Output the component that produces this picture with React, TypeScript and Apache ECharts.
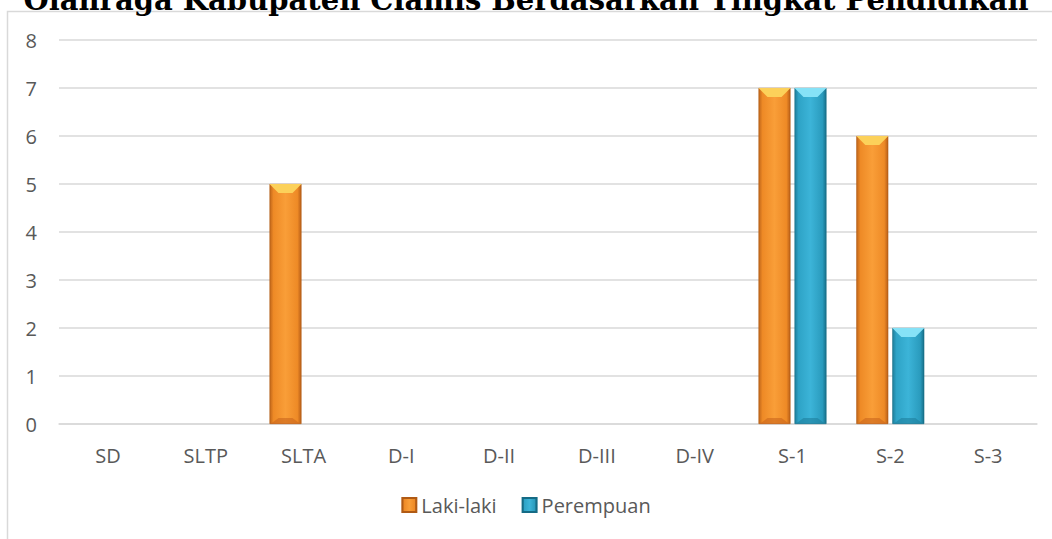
import React, { useEffect, useRef } from "react";
import * as echarts from "echarts";

const categories = ["SD", "SLTP", "SLTA", "D-I", "D-II", "D-III", "D-IV", "S-1", "S-2", "S-3"];
const lakiLaki = [0, 0, 5, 0, 0, 0, 0, 7, 6, 0];
const perempuan = [0, 0, 0, 0, 0, 0, 0, 7, 2, 0];
const yTicks = [0, 1, 2, 3, 4, 5, 6, 7, 8];
const titleText = "Olahraga Kabupaten Ciamis Berdasarkan Tingkat Pendidikan";

const BAR_W = 32;
const OFFSET = 18;

const orangeGrad = new echarts.graphic.LinearGradient(0, 0, 1, 0, [
  { offset: 0, color: "#c0661a" },
  { offset: 0.12, color: "#ee8a26" },
  { offset: 0.5, color: "#f99e38" },
  { offset: 0.88, color: "#ee8a26" },
  { offset: 1, color: "#b95f18" },
]);
const blueGrad = new echarts.graphic.LinearGradient(0, 0, 1, 0, [
  { offset: 0, color: "#1f7f9c" },
  { offset: 0.12, color: "#2ea3c6" },
  { offset: 0.5, color: "#3cb4d8" },
  { offset: 0.88, color: "#2a9bbd" },
  { offset: 1, color: "#17708a" },
]);

function bevelSeries(name: string, values: number[], dir: number, topColor: string, bottomColor: string) {
  return {
    type: "custom",
    name,
    silent: true,
    z: 5,
    data: values.map((v, i) => [i, v]),
    renderItem: (params: any, api: any) => {
      const v = api.value(1);
      if (!v) return null;
      const top = api.coord([api.value(0), v]);
      const base = api.coord([api.value(0), 0]);
      const cx = top[0] + dir * OFFSET;
      const l = cx - BAR_W / 2;
      const r = cx + BAR_W / 2;
      const t = top[1];
      const b = base[1];
      const h = 9;
      const ins = 9;
      return {
        type: "group",
        children: [
          {
            type: "polygon",
            shape: { points: [[l, t], [r, t], [r - ins, t + h], [l + ins, t + h]] },
            style: { fill: topColor },
          },
          {
            type: "polygon",
            shape: { points: [[l + 1, b], [r - 1, b], [r - ins, b - 6], [l + ins, b - 6]] },
            style: { fill: bottomColor, opacity: 0.6 },
          },
        ],
      };
    },
  };
}

export default function App() {
  const ref = useRef<HTMLDivElement>(null);
  useEffect(() => {
    document.body.style.margin = "0";
    const chart = echarts.init(ref.current!, null, { renderer: "svg" });
    chart.setOption({
      animation: false,
      backgroundColor: "#ffffff",
      textStyle: { fontFamily: "Open Sans" },
      graphic: [
        {
          type: "rect",
          shape: { x: 7.5, y: 11.5, width: 1200, height: 700 },
          style: { fill: "none", stroke: "#d9d9d9", lineWidth: 1.5 },
          silent: true,
        },
        {
          type: "text",
          x: 526,
          y: 14,
          style: {
            text: titleText,
            textAlign: "center",
            textVerticalAlign: "bottom",
            fontFamily: "DejaVu Serif",
            fontWeight: "bold",
            fontSize: 29,
            fill: "#000000",
          },
          silent: true,
        },
      ],
      grid: { left: 59, right: 15, top: 40, bottom: 115, containLabel: false },
      legend: {
        bottom: 19,
        left: "center",
        icon: "rect",
        itemWidth: 14,
        itemHeight: 14,
        itemGap: 25,
        textStyle: { color: "#595959", fontSize: 20, fontFamily: "Open Sans" },
        data: [
          { name: "Laki-laki", itemStyle: { color: orangeGrad } },
          { name: "Perempuan", itemStyle: { color: blueGrad } },
        ],
      },
      xAxis: {
        type: "category",
        data: categories,
        axisTick: { show: false },
        axisLine: { lineStyle: { color: "#d9d9d9", width: 1.5 } },
        axisLabel: { color: "#595959", fontSize: 20, margin: 21, fontFamily: "Open Sans" },
      },
      yAxis: {
        type: "value",
        min: yTicks[0],
        max: yTicks[yTicks.length - 1],
        interval: 1,
        axisLine: { show: false },
        axisTick: { show: false },
        splitLine: { lineStyle: { color: "#d9d9d9", width: 1.5 } },
        axisLabel: { color: "#595959", fontSize: 20, margin: 22, fontFamily: "Open Sans" },
      },
      series: [
        {
          type: "bar",
          name: "Laki-laki",
          data: lakiLaki.map((v) => (v === 0 ? null : v)),
          barWidth: BAR_W,
          barGap: "12.5%",
          itemStyle: { color: orangeGrad, borderColor: "#b05a14", borderWidth: 0.6 },
        },
        {
          type: "bar",
          name: "Perempuan",
          data: perempuan.map((v) => (v === 0 ? null : v)),
          barWidth: BAR_W,
          barGap: "12.5%",
          itemStyle: { color: blueGrad, borderColor: "#156b85", borderWidth: 0.6 },
        },
        bevelSeries("Laki-laki", lakiLaki, -1, "#fcd15a", "#c9661c"),
        bevelSeries("Perempuan", perempuan, 1, "#86e2f7", "#1e7f9c"),
      ],
    });
    return () => chart.dispose();
  }, []);
  return <div ref={ref} style={{ width: 1052, height: 539 }} />;
}
